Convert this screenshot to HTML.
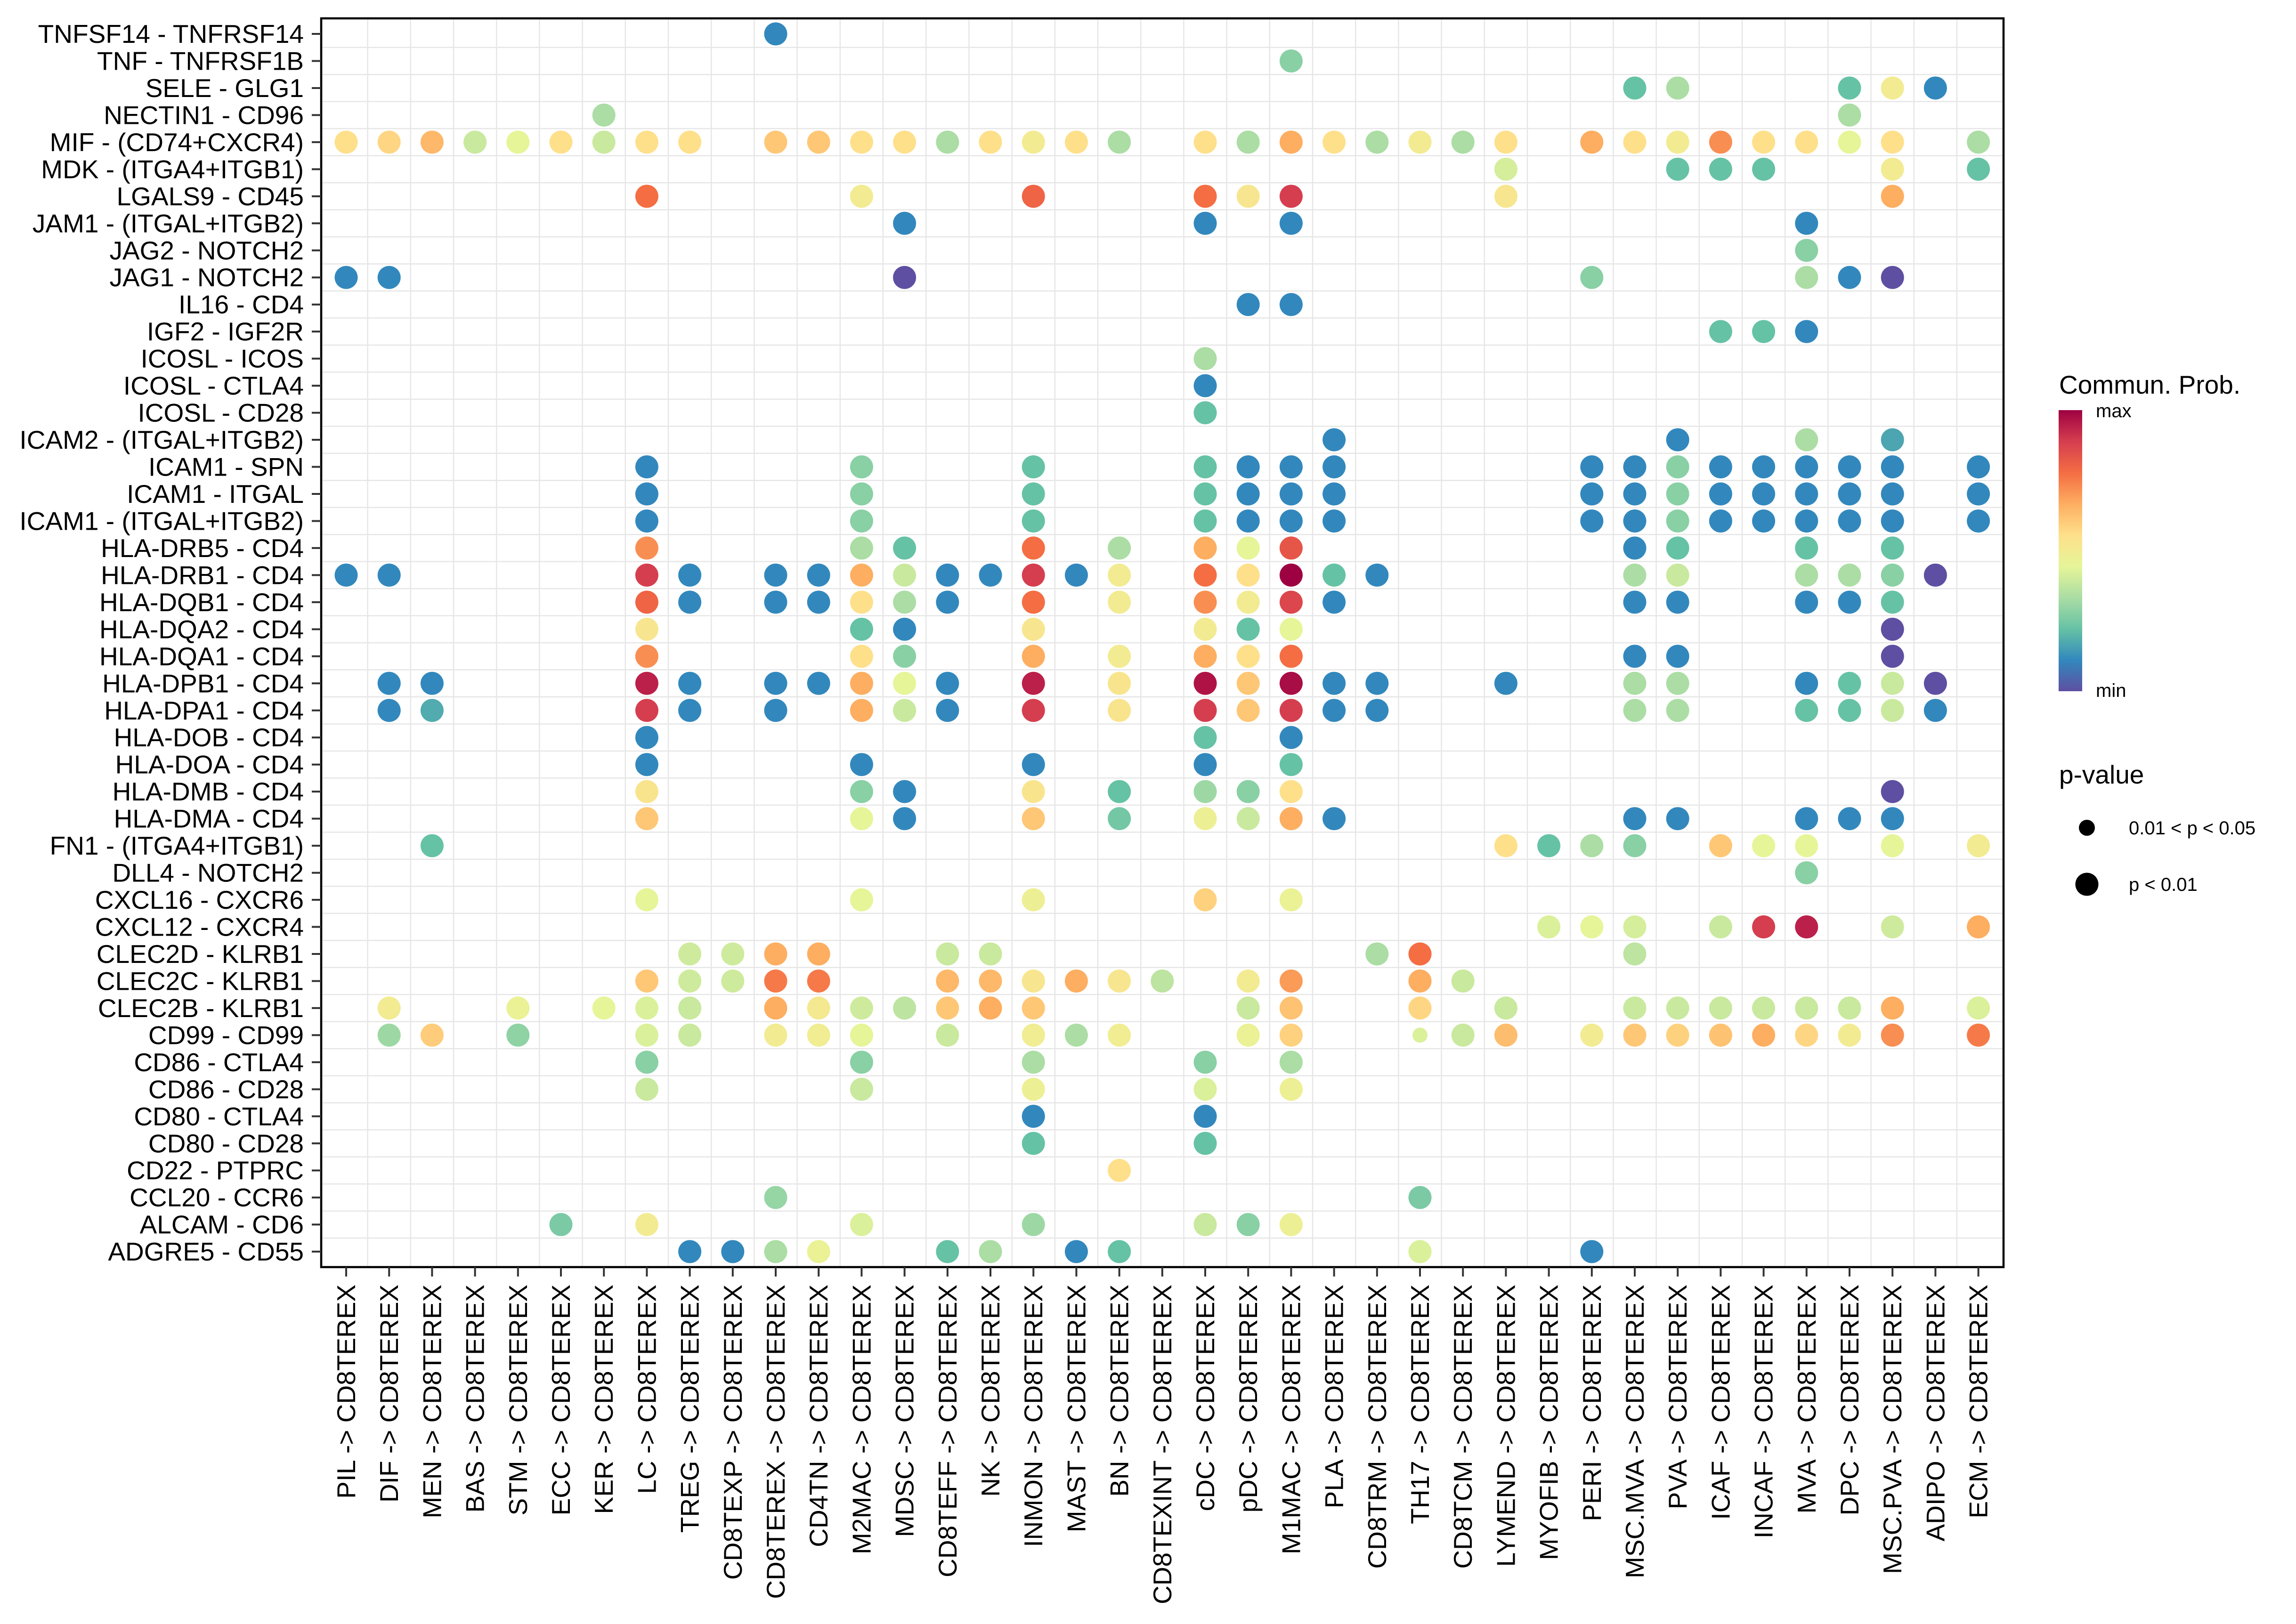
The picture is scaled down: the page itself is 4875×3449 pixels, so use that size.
<!DOCTYPE html>
<html><head><meta charset="utf-8"><style>
html,body{margin:0;padding:0;background:#fff;}
svg{display:block;font-family:"Liberation Sans",Arial,sans-serif;}
</style></head><body>
<svg id="chart" width="4875" height="3449" viewBox="0 0 4875 3449" xmlns="http://www.w3.org/2000/svg">
<rect x="0" y="0" width="4875" height="3449" fill="#fff"/>
<g id="grid"></g>
<g id="dots"></g>
<rect x="682" y="39" width="3572" height="2652" fill="none" stroke="#000" stroke-width="4.5"/>
<g id="yaxis"></g>
<g id="xaxis"></g>
<g>
<defs><linearGradient id="spec" x1="0" y1="1" x2="0" y2="0">
<stop offset="0" stop-color="#5E4FA2"/><stop offset="0.111" stop-color="#3288BD"/><stop offset="0.222" stop-color="#66C2A5"/><stop offset="0.333" stop-color="#ABDDA4"/><stop offset="0.444" stop-color="#E6F598"/><stop offset="0.555" stop-color="#FEE08B"/><stop offset="0.666" stop-color="#FDAE61"/><stop offset="0.777" stop-color="#F46D43"/><stop offset="0.888" stop-color="#D53E4F"/><stop offset="1" stop-color="#9E0142"/>
</linearGradient></defs>
<text x="4372" y="836" font-size="55">Commun. Prob.</text>
<rect x="4371" y="871" width="50" height="597" fill="url(#spec)"/>
<text x="4450" y="886" font-size="40">max</text>
<text x="4450" y="1480" font-size="40">min</text>
</g>
<g>
<text x="4372" y="1664" font-size="55">p-value</text>
<circle cx="4431" cy="1758" r="17" fill="#000"/>
<text x="4520" y="1772" font-size="40">0.01 &lt; p &lt; 0.05</text>
<circle cx="4431" cy="1878" r="24.5" fill="#000"/>
<text x="4520" y="1892" font-size="40">p &lt; 0.01</text>
</g>
</svg>
<script>
const sources = ["PIL","DIF","MEN","BAS","STM","ECC","KER","LC","TREG","CD8TEXP","CD8TEREX","CD4TN","M2MAC","MDSC","CD8TEFF","NK","INMON","MAST","BN","CD8TEXINT","cDC","pDC","M1MAC","PLA","CD8TRM","TH17","CD8TCM","LYMEND","MYOFIB","PERI","MSC.MVA","PVA","ICAF","INCAF","MVA","DPC","MSC.PVA","ADIPO","ECM"];
const pairs = ["TNFSF14 - TNFRSF14","TNF - TNFRSF1B","SELE - GLG1","NECTIN1 - CD96","MIF - (CD74+CXCR4)","MDK - (ITGA4+ITGB1)","LGALS9 - CD45","JAM1 - (ITGAL+ITGB2)","JAG2 - NOTCH2","JAG1 - NOTCH2","IL16 - CD4","IGF2 - IGF2R","ICOSL - ICOS","ICOSL - CTLA4","ICOSL - CD28","ICAM2 - (ITGAL+ITGB2)","ICAM1 - SPN","ICAM1 - ITGAL","ICAM1 - (ITGAL+ITGB2)","HLA-DRB5 - CD4","HLA-DRB1 - CD4","HLA-DQB1 - CD4","HLA-DQA2 - CD4","HLA-DQA1 - CD4","HLA-DPB1 - CD4","HLA-DPA1 - CD4","HLA-DOB - CD4","HLA-DOA - CD4","HLA-DMB - CD4","HLA-DMA - CD4","FN1 - (ITGA4+ITGB1)","DLL4 - NOTCH2","CXCL16 - CXCR6","CXCL12 - CXCR4","CLEC2D - KLRB1","CLEC2C - KLRB1","CLEC2B - KLRB1","CD99 - CD99","CD86 - CTLA4","CD86 - CD28","CD80 - CTLA4","CD80 - CD28","CD22 - PTPRC","CCL20 - CCR6","ALCAM - CD6","ADGRE5 - CD55"];
// per-row lists: "col:prob" where prob is on a 0 (min) .. 9 (max) scale; "s" suffix = 0.01<p<0.05
const rowValues = [
"10:1","22:2.5","30:2 31:3 35:2 36:4.5 37:1","6:3 35:3",
"0:5 1:5.2 2:5.8 3:3.5 4:4 5:5 6:3.5 7:5 8:5 10:5.5 11:5.5 12:5 13:5 14:3 15:5 16:4.5 17:5 18:3 20:5 21:3 22:6 23:5 24:3 25:4.5 26:3 27:5 29:6 30:5 31:4.5 32:6.5 33:5 34:5 35:4 36:5 38:3",
"27:3.7 31:2 32:2 33:2 36:4.5 38:2",
"7:7 12:4.5 16:7.2 20:7 21:4.7 22:8 27:4.7 36:6",
"13:1 20:1 22:1 34:1","34:2.5",
"0:1 1:1 13:0 29:2.5 34:3 35:1 36:0",
"21:1 22:1","32:2 33:2 34:1","20:3","20:1","20:2",
"23:1 31:1 34:3 36:1.5",
"7:1 12:2.5 16:2 20:2 21:1 22:1 23:1 29:1 30:1 31:2.5 32:1 33:1 34:1 35:1 36:1 38:1",
"7:1 12:2.5 16:2 20:2 21:1 22:1 23:1 29:1 30:1 31:2.5 32:1 33:1 34:1 35:1 36:1 38:1",
"7:1 12:2.5 16:2 20:2 21:1 22:1 23:1 29:1 30:1 31:2.5 32:1 33:1 34:1 35:1 36:1 38:1",
"7:6.5 12:3 13:2 16:7 18:3 20:6 21:4 22:7.5 30:1 31:2 34:2 36:2",
"0:1 1:1 7:8 8:1 10:1 11:1 12:6 13:3.5 14:1 15:1 16:8 17:1 18:4.5 20:7 21:5 22:9 23:2 24:1 30:3 31:3.5 34:3 35:3 36:2.5 37:0",
"7:7.2 8:1 10:1 11:1 12:5 13:3 14:1 16:7 18:4.5 20:6.5 21:4.5 22:7.8 23:1 30:1 31:1 34:1 35:1 36:2",
"7:4.7 12:2 13:1 16:4.7 20:4.5 21:2 22:4 36:0",
"7:6.5 12:5 13:2.5 16:6 18:4.5 20:6 21:5 22:7 30:1 31:1 36:0",
"1:1 2:1 7:8.5 8:1 10:1 11:1 12:6 13:4 14:1 16:8.5 18:4.8 20:8.7 21:5.5 22:8.8 23:1 24:1 27:1 30:3 31:3 34:1 35:2 36:3.5 37:0",
"1:1 2:1.6 7:8 8:1 10:1 12:6 13:3.5 14:1 16:8 18:4.8 20:8 21:5.5 22:8 23:1 24:1 30:3 31:3 34:2 35:2 36:3.5 37:1",
"7:1 20:2 22:1",
"7:1 12:1 16:1 20:1 22:2",
"7:4.8 12:2.5 13:1 16:4.8 18:2 20:2.8 21:2.5 22:5 36:0",
"7:5.5 12:4 13:1 16:5.5 18:2.2 20:4.3 21:3.5 22:6 23:1 30:1 31:1 34:1 35:1 36:1",
"2:2 27:5 28:2 29:3 30:2.5 32:5.5 33:4 34:4 36:4 38:4.5",
"34:2.5",
"7:4 12:4 16:4.3 20:5.3 22:4.2",
"28:3.8 29:4 30:3.7 32:3.5 33:8 34:8.5 36:3.6 38:6",
"8:3.6 9:3.6 10:6 11:6 14:3.5 15:3.5 24:3 25:7 30:3.3",
"7:5.5 8:3.6 9:3.6 10:6.8 11:6.8 14:5.8 15:5.8 16:4.7 17:6 18:4.7 19:3.3 21:4.5 22:6.3 25:6 26:3.5",
"1:4.5 4:4.2 6:4 7:3.8 8:3.5 10:6 11:4.6 12:3.6 13:3.3 14:5.5 15:6 16:5.5 21:3.5 22:5.6 25:5.2 27:3.5 30:3.5 31:3.5 32:3.5 33:3.5 34:3.5 35:3.5 36:6 38:3.8",
"1:2.8 2:5.4 4:2.6 7:3.8 8:3.5 10:4.5 11:4.4 12:4 14:3.5 16:4.4 17:3 18:4.4 21:4.2 22:5.3 25:3.8s 26:3.5 27:5.7 29:4.5 30:5.5 31:5.3 32:5.6 33:6 34:5.2 35:4.5 36:6.5 38:6.8",
"7:2.5 12:2.5 16:3 20:2.5 22:3",
"7:3.5 12:3.5 16:4.3 20:3.8 22:4.3",
"16:1 20:1","16:2 20:2","18:5","10:2.7 25:2.3",
"5:2.3 7:4.5 12:3.8 16:2.8 20:3.5 21:2.5 22:4.3",
"8:1 9:1 10:3 11:4.2 14:2 15:3 17:1 18:2 25:3.8 29:1"
];
const palette = ["#5E4FA2","#3288BD","#66C2A5","#ABDDA4","#E6F598","#FEE08B","#FDAE61","#F46D43","#D53E4F","#9E0142"];

const NS = "http://www.w3.org/2000/svg";
const X0 = 735, DX = 91.2, Y0 = 72, DY = 57.47;
const PL = 682, PR = 4254, PT = 39, PB = 2691;
function xPos(i){ return X0 + i*DX; }
function yPos(j){ return Y0 + j*DY; }
function hex(c){ return [1,3,5].map(k=>parseInt(c.substr(k,2),16)); }
function color(v){
  v = Math.max(0, Math.min(9, v));
  const i = Math.min(8, Math.floor(v)), t = v - i;
  const a = hex(palette[i]), b = hex(palette[i+1]);
  return "rgb(" + a.map((c,k)=>Math.round(c+(b[k]-c)*t)).join(",") + ")";
}
function mk(tag, attrs, parent){
  const e = document.createElementNS(NS, tag);
  for (const k in attrs) e.setAttribute(k, attrs[k]);
  parent.appendChild(e); return e;
}
const grid = document.getElementById("grid");
for (let i = 0; i < sources.length - 1; i++) {
  const gl = mk("line", {x1: xPos(i+0.5), x2: xPos(i+0.5), y1: PT, y2: PB, stroke: "#e6e6e6", "stroke-width": 2.5}, grid);
  
  
}
for (let j = 0; j < pairs.length - 1; j++) {
  const gl = mk("line", {x1: PL, x2: PR, y1: yPos(j+0.5), y2: yPos(j+0.5), stroke: "#e6e6e6", "stroke-width": 2.5}, grid);
  
  
}
const dots = document.getElementById("dots");
rowValues.forEach((row, j) => {
  row.split(" ").forEach(tok => {
    const small = tok.endsWith("s");
    const [c, v] = tok.replace("s","").split(":").map(Number);
    const d = mk("circle", {cx: xPos(c), cy: yPos(j), r: small ? 16 : 24.5, fill: color(v)}, dots);
    
    
  });
});
const ya = document.getElementById("yaxis");
pairs.forEach((p, j) => {
  const t = mk("line", {x1: 662, x2: PL, y1: yPos(j), y2: yPos(j), stroke: "#333", "stroke-width": 4}, ya);
  
  
  const tx = mk("text", {x: 645, y: yPos(j) + 19, "font-size": 55, "text-anchor": "end"}, ya);
  tx.textContent = p;
  
  
});
const xa = document.getElementById("xaxis");
sources.forEach((s, i) => {
  const t = mk("line", {x1: xPos(i), x2: xPos(i), y1: PB, y2: PB + 20, stroke: "#333", "stroke-width": 4}, xa);
  
  
  const x = xPos(i) + 19, y = 2728;
  const tx = mk("text", {x: x, y: y, "font-size": 55, "text-anchor": "end", transform: "rotate(-90 " + x + " " + y + ")"}, xa);
  tx.textContent = s + " -> CD8TEREX";
  
  
});
</script>
</body></html>
